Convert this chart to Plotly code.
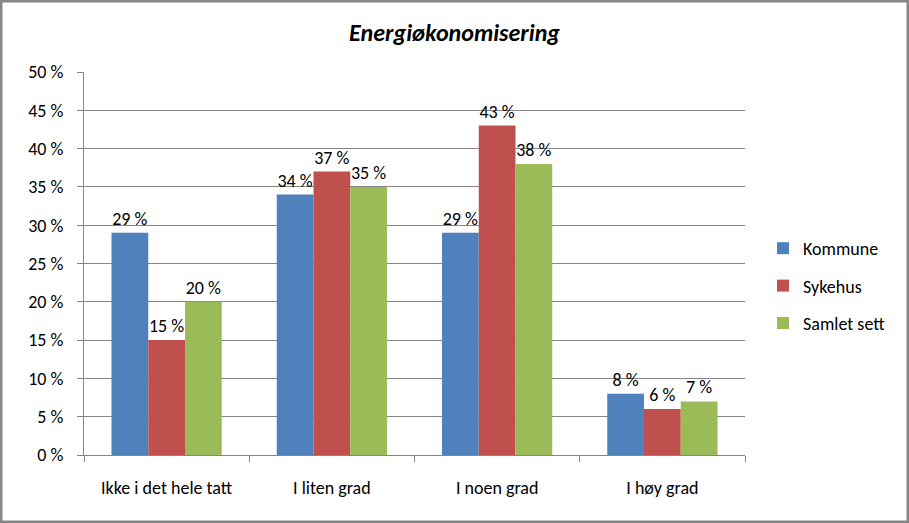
import plotly.graph_objects as go

categories = ["Ikke i det hele tatt", "I liten grad", "I noen grad", "I høy grad"]
series_names = ["Kommune", "Sykehus", "Samlet sett"]
kommune = [29, 34, 29, 8]
sykehus = [15, 37, 43, 6]
samlet = [20, 35, 38, 7]
colors = ["#4F81BD", "#C0504D", "#9BBB59"]
tick_vals = [0, 5, 10, 15, 20, 25, 30, 35, 40, 45, 50]
tick_text = [f"{v} %" for v in tick_vals]

FONT = "Carlito, Calibri, Lato, sans-serif"

W, H = 909, 523
L, R, T, B = 84, 164, 72, 68
pw, ph = W - L - R, H - T - B

fig = go.Figure()
for i, (name, vals, col) in enumerate(zip(series_names, [kommune, sykehus, samlet], colors)):
    fig.add_trace(go.Bar(
        name=name, x=categories, y=vals, legendgroup=f"g{i}",
        marker=dict(color=col, line=dict(width=0)),
        text=[f"{v} %" for v in vals], textposition="outside",
        textfont=dict(family=FONT, size=18, color="#000000"),
        cliponaxis=False,
    ))

def px_x(p):
    return (p - L) / pw

def px_y(p):
    return 1 - (p - T) / ph

fig.update_layout(
    width=W, height=H,
    margin=dict(l=L, r=R, t=T, b=B),
    paper_bgcolor="white", plot_bgcolor="white",
    barmode="group", bargap=0.333, bargroupgap=0,
    font=dict(family=FONT, size=18, color="#000000"),
    title=dict(text="<b><i>Energiøkonomisering</i></b>", x=0.5, xref="container", xanchor="center",
               y=1 - 33 / H, yref="container", yanchor="middle",
               font=dict(family=FONT, size=24, color="#000000")),
    showlegend=True,
    legend=dict(x=px_x(763), y=px_y(248 - 18), xanchor="left", yanchor="top",
                font=dict(family=FONT, size=18), tracegroupgap=11, itemsizing="constant",
                itemwidth=30, bgcolor="rgba(0,0,0,0)"),
    xaxis=dict(showline=True, linecolor="#868686", linewidth=1, ticks="outside", ticklen=6,
               tickcolor="#868686", showgrid=False, tickson="boundaries",
               tickfont=dict(family=FONT, size=18), ticklabelstandoff=16),
    yaxis=dict(range=[0, 50], tickmode="array", tickvals=tick_vals, ticktext=tick_text,
               showgrid=True, gridcolor="#868686", gridwidth=1, showline=True,
               linecolor="#868686", ticks="outside", ticklen=6, tickcolor="#868686",
               zeroline=False, tickfont=dict(family=FONT, size=18), ticklabelstandoff=10),
    shapes=[dict(type="rect", xref="paper", yref="paper",
                 x0=px_x(1), x1=px_x(W - 1), y0=px_y(H - 1), y1=px_y(1),
                 line=dict(color="#878787", width=3), fillcolor="rgba(0,0,0,0)", layer="above")],
)

fig.write_html(
    "out.html",
    config={"displayModeBar": False},
    post_script="document.body.style.margin='0';document.body.style.padding='0';"
                "document.body.style.overflow='hidden';document.documentElement.style.overflow='hidden';",
)
